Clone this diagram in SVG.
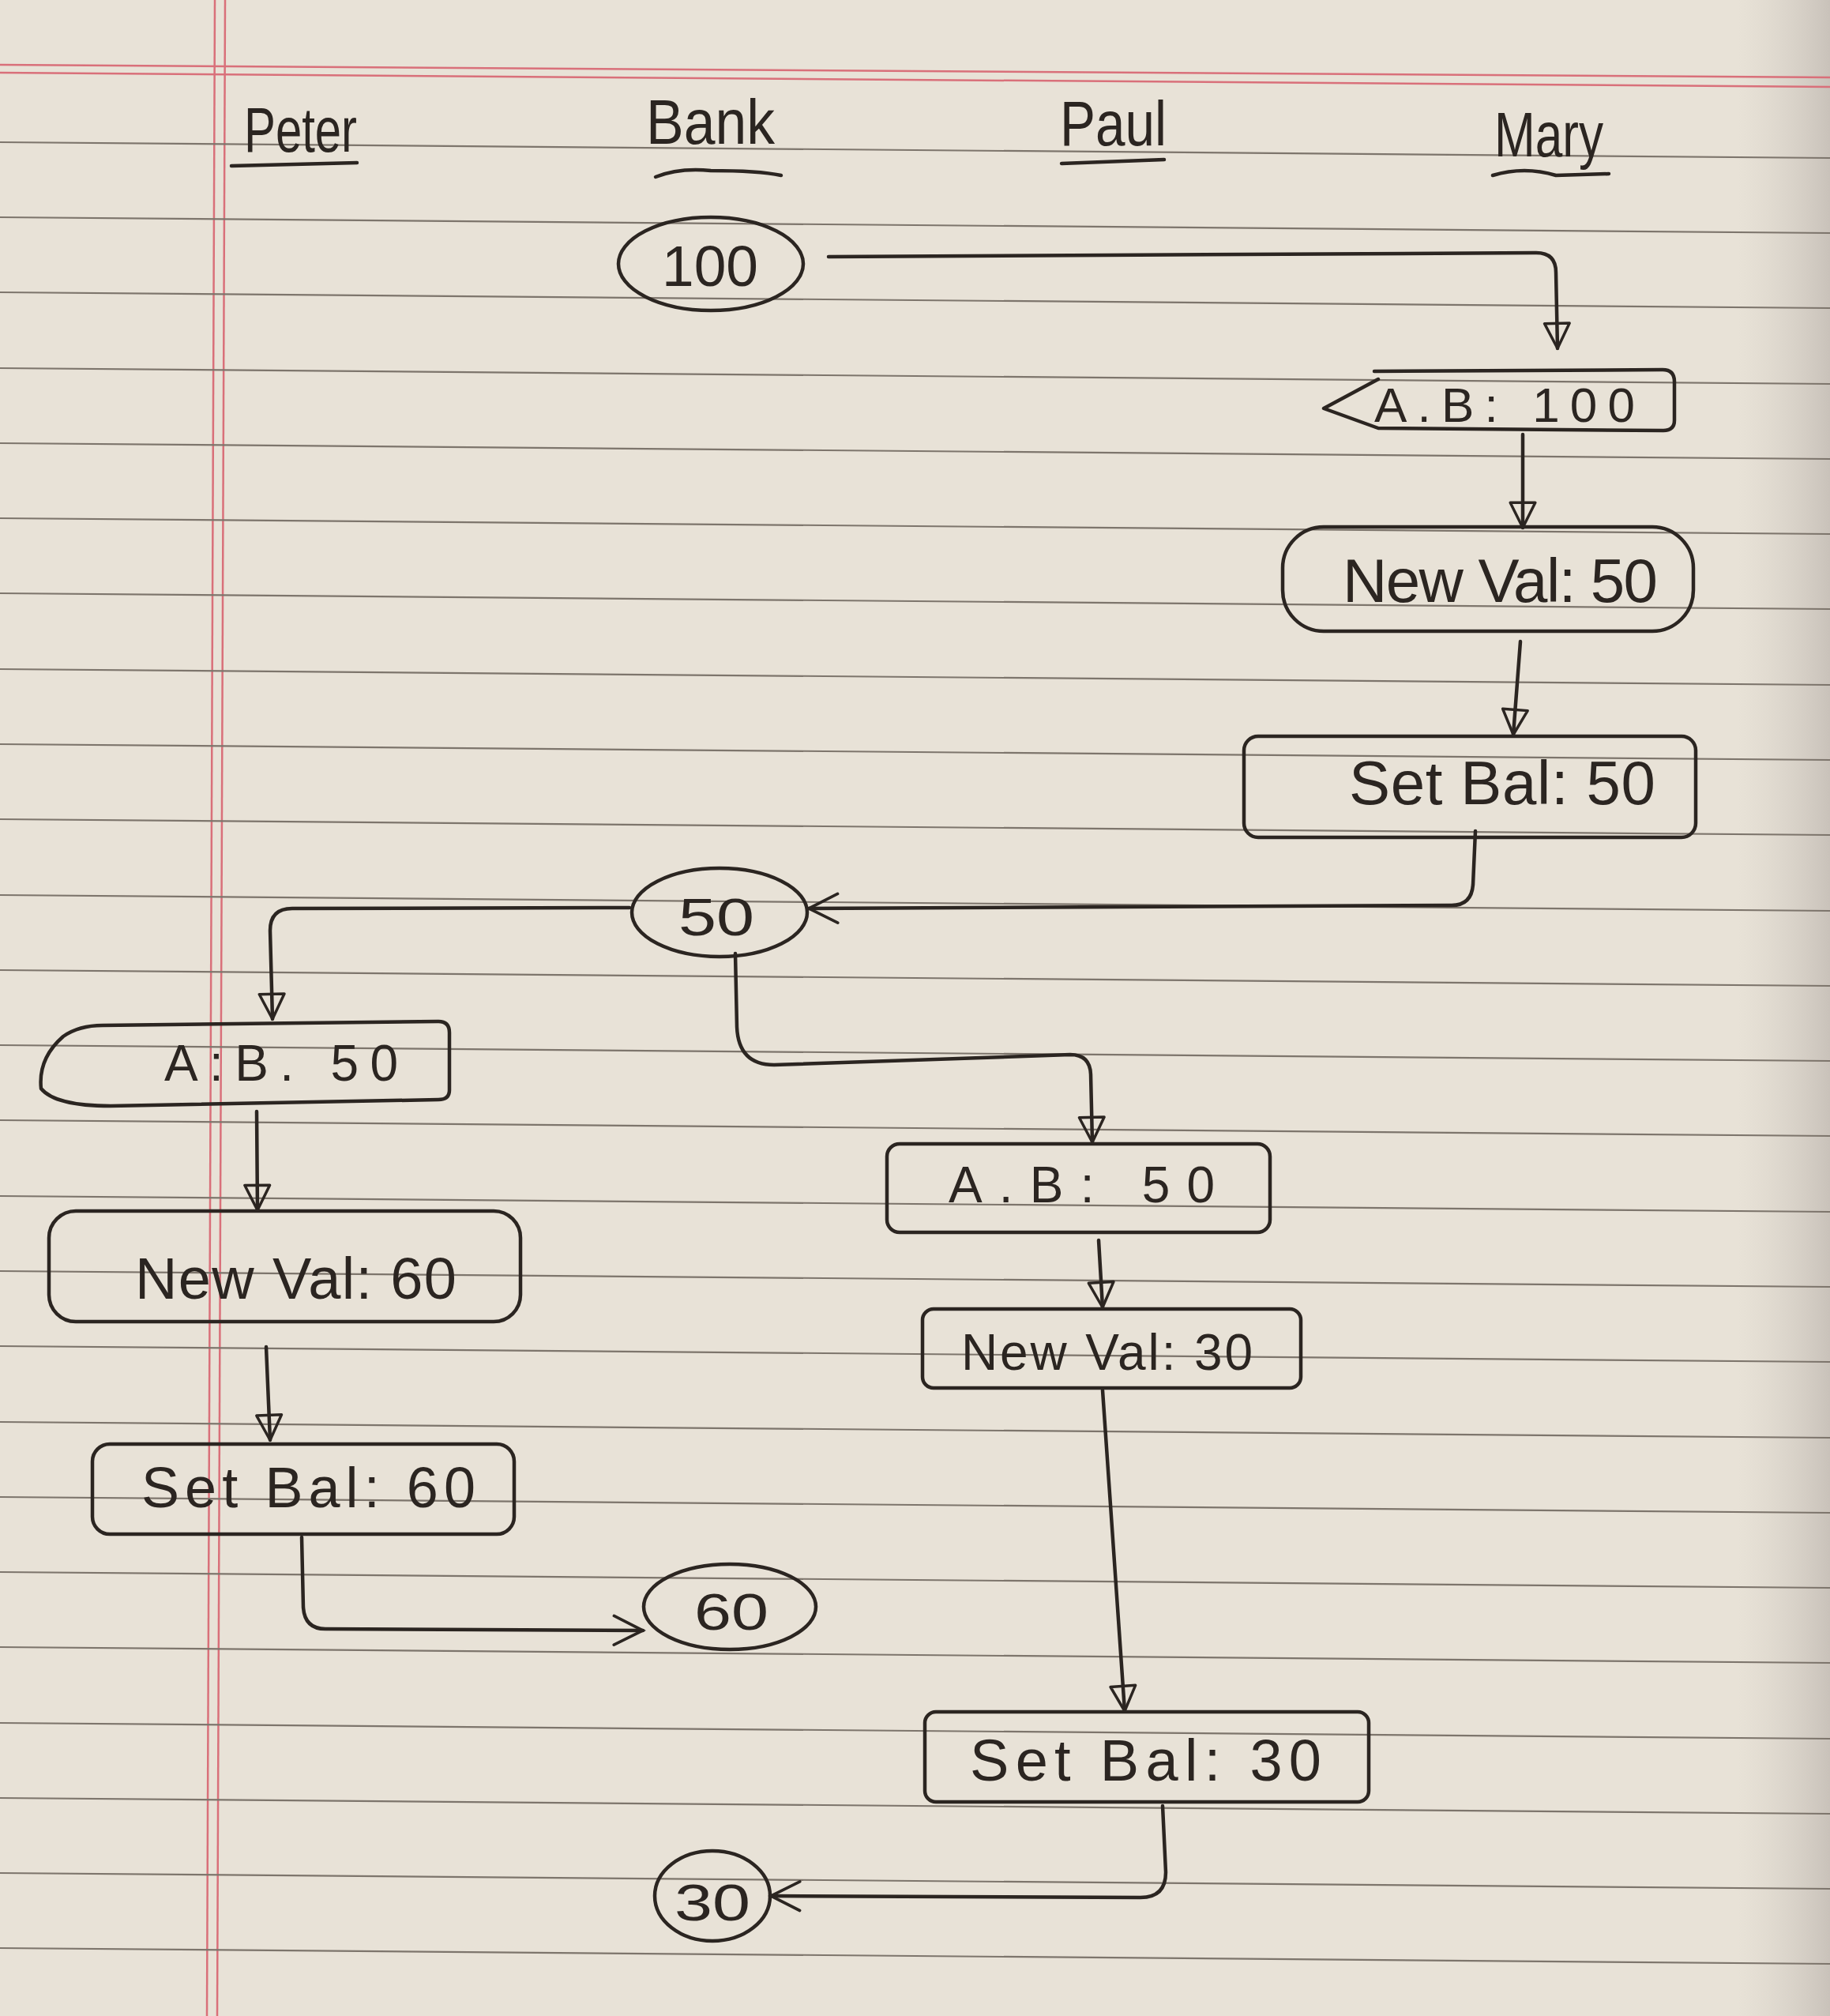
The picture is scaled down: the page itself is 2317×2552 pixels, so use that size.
<svg xmlns="http://www.w3.org/2000/svg" width="2317" height="2552" viewBox="0 0 2317 2552">
<style>
.ink{fill:none;stroke:#2b2521;stroke-width:4.5;stroke-linecap:round;stroke-linejoin:round}
.lbl{font-family:"Liberation Sans",Arial,sans-serif;fill:#2b2521;text-anchor:start}
.hdr{font-family:"Liberation Sans",Arial,sans-serif;fill:#2b2521;font-size:80px}
.rule{stroke:#7d756c;stroke-width:2.2}
.margin{stroke:#d9707a;stroke-width:2.5}
</style>
<defs>
<marker id="tri" viewBox="0 0 12 12" refX="11" refY="6" markerWidth="38" markerHeight="38" markerUnits="userSpaceOnUse" orient="auto">
<path d="M1,1 L11,6 L1,11 Z" fill="none" stroke="#2b2521" stroke-width="1.1" stroke-linejoin="round"/>
</marker>
<marker id="chev" viewBox="0 0 12 12" refX="11" refY="6" markerWidth="44" markerHeight="44" markerUnits="userSpaceOnUse" orient="auto">
<path d="M1,1 L11,6 L1,11" fill="none" stroke="#2b2521" stroke-width="1" stroke-linecap="round"/>
</marker>
<linearGradient id="edge" x1="0" y1="0" x2="1" y2="0">
<stop offset="0" stop-color="#d8d2c8" stop-opacity="0"/>
<stop offset="1" stop-color="#c9c2ba" stop-opacity="1"/>
</linearGradient>
</defs>

<g id="paper">
<rect x="0" y="0" width="2317" height="2552" fill="#e8e2d7"/>
<rect x="2200" y="0" width="117" height="2552" fill="url(#edge)"/>
<line class="margin" x1="0" y1="82" x2="2317" y2="98"/>
<line class="margin" x1="0" y1="92" x2="2317" y2="110"/>
<line class="margin" x1="272" y1="0" x2="262" y2="2552"/>
<line class="margin" x1="285" y1="0" x2="275" y2="2552"/>
<g id="rules">
<line class="rule" x1="0" y1="180" x2="2317" y2="200"/>
<line class="rule" x1="0" y1="275" x2="2317" y2="295"/>
<line class="rule" x1="0" y1="370" x2="2317" y2="390"/>
<line class="rule" x1="0" y1="466" x2="2317" y2="486"/>
<line class="rule" x1="0" y1="561" x2="2317" y2="581"/>
<line class="rule" x1="0" y1="656" x2="2317" y2="676"/>
<line class="rule" x1="0" y1="751" x2="2317" y2="771"/>
<line class="rule" x1="0" y1="847" x2="2317" y2="867"/>
<line class="rule" x1="0" y1="942" x2="2317" y2="962"/>
<line class="rule" x1="0" y1="1037" x2="2317" y2="1057"/>
<line class="rule" x1="0" y1="1133" x2="2317" y2="1153"/>
<line class="rule" x1="0" y1="1228" x2="2317" y2="1248"/>
<line class="rule" x1="0" y1="1323" x2="2317" y2="1343"/>
<line class="rule" x1="0" y1="1418" x2="2317" y2="1438"/>
<line class="rule" x1="0" y1="1514" x2="2317" y2="1534"/>
<line class="rule" x1="0" y1="1609" x2="2317" y2="1629"/>
<line class="rule" x1="0" y1="1704" x2="2317" y2="1724"/>
<line class="rule" x1="0" y1="1800" x2="2317" y2="1820"/>
<line class="rule" x1="0" y1="1895" x2="2317" y2="1915"/>
<line class="rule" x1="0" y1="1990" x2="2317" y2="2010"/>
<line class="rule" x1="0" y1="2085" x2="2317" y2="2105"/>
<line class="rule" x1="0" y1="2181" x2="2317" y2="2201"/>
<line class="rule" x1="0" y1="2276" x2="2317" y2="2296"/>
<line class="rule" x1="0" y1="2371" x2="2317" y2="2391"/>
<line class="rule" x1="0" y1="2466" x2="2317" y2="2486"/>
</g>
</g>

<g id="headers">
<g id="h-peter"><text class="hdr" x="309" y="192" textLength="143" lengthAdjust="spacingAndGlyphs">Peter</text><path class="ink" d="M293,210 L452,206"/></g>
<g id="h-bank"><text class="hdr" x="818" y="182" textLength="163" lengthAdjust="spacingAndGlyphs">Bank</text><path class="ink" d="M830,224 Q860,212 900,216 Q960,216 989,222"/></g>
<g id="h-paul"><text class="hdr" x="1342" y="184" textLength="135" lengthAdjust="spacingAndGlyphs">Paul</text><path class="ink" d="M1344,207 L1474,202"/></g>
<g id="h-mary"><text class="hdr" x="1892" y="198" textLength="138" lengthAdjust="spacingAndGlyphs">Mary</text><path class="ink" d="M1890,222 Q1930,210 1970,222 L2037,220"/></g>
</g>

<g id="connectors">
<path class="ink" d="M1049,325 L1945,320 Q1970,320 1970,345 L1972,441" marker-end="url(#tri)"/>
<path class="ink" d="M1928,550 L1928,668" marker-end="url(#tri)"/>
<path class="ink" d="M1925,812 L1916,930" marker-end="url(#tri)"/>
<path class="ink" d="M1868,1052 L1865,1120 Q1863,1146 1838,1146 L1024,1150" marker-end="url(#chev)"/>
<path class="ink" d="M797,1149 L370,1150 Q342,1150 342,1178 L345,1290" marker-end="url(#tri)"/>
<path class="ink" d="M931,1207 L933,1300 Q935,1348 980,1348 L1355,1335 Q1380,1335 1381,1360 L1383,1446" marker-end="url(#tri)"/>
<path class="ink" d="M325,1407 L326,1532" marker-end="url(#tri)"/>
<path class="ink" d="M337,1705 L342,1823" marker-end="url(#tri)"/>
<path class="ink" d="M382,1946 L384,2035 Q386,2062 412,2062 L814,2064" marker-end="url(#chev)"/>
<path class="ink" d="M1391,1570 L1396,1655" marker-end="url(#tri)"/>
<path class="ink" d="M1396,1760 L1424,2166" marker-end="url(#tri)"/>
<path class="ink" d="M1472,2286 L1476,2370 Q1476,2402 1444,2402 L976,2400" marker-end="url(#chev)"/>
</g>

<g id="n-bank-100">
<ellipse class="ink" cx="900" cy="334" rx="117" ry="59"/>
<text class="lbl" x="838" y="362" font-size="72" textLength="122" lengthAdjust="spacingAndGlyphs">100</text>
</g>

<g id="n-mary-ab">
<path class="ink" d="M1740,470 L2105,468 Q2120,468 2120,483 L2120,532 Q2120,545 2106,545 L1745,542 L1676,517 L1745,480"/>
<text class="lbl" x="1740" y="534" font-size="62" textLength="330" lengthAdjust="spacing">A.B: 100</text>
</g>

<g id="n-mary-newval">
<rect class="ink" x="1624" y="667" width="520" height="132" rx="52"/>
<text class="lbl" x="1700" y="762" font-size="78" textLength="399" lengthAdjust="spacing">New Val: 50</text>
</g>

<g id="n-mary-setbal">
<rect class="ink" x="1575" y="932" width="572" height="128" rx="18"/>
<text class="lbl" x="1708" y="1018" font-size="78" textLength="388" lengthAdjust="spacing">Set Bal: 50</text>
</g>

<g id="n-bank-50">
<ellipse class="ink" cx="911" cy="1155" rx="111" ry="56"/>
<text class="lbl" x="859" y="1184" font-size="66" textLength="96" lengthAdjust="spacingAndGlyphs">50</text>
</g>

<g id="n-peter-ab">
<path class="ink" d="M130,1298 L555,1293 Q569,1293 569,1307 L569,1380 Q569,1392 555,1392 L140,1400 Q70,1400 52,1378 Q48,1340 80,1312 Q100,1298 130,1298 Z"/>
<text class="lbl" x="208" y="1368" font-size="64" textLength="296" lengthAdjust="spacing">A:B. 50</text>
</g>

<g id="n-peter-newval">
<rect class="ink" x="62" y="1533" width="597" height="140" rx="34"/>
<text class="lbl" x="171" y="1644" font-size="74" textLength="407" lengthAdjust="spacing">New Val: 60</text>
</g>

<g id="n-peter-setbal">
<rect class="ink" x="117" y="1828" width="534" height="114" rx="22"/>
<text class="lbl" x="179" y="1908" font-size="72" textLength="423" lengthAdjust="spacing">Set Bal: 60</text>
</g>

<g id="n-bank-60">
<ellipse class="ink" cx="924" cy="2034" rx="109" ry="54"/>
<text class="lbl" x="879" y="2063" font-size="64" textLength="94" lengthAdjust="spacingAndGlyphs">60</text>
</g>

<g id="n-paul-ab">
<rect class="ink" x="1123" y="1448" width="485" height="112" rx="16"/>
<text class="lbl" x="1201" y="1522" font-size="64" textLength="337" lengthAdjust="spacing">A.B: 50</text>
</g>

<g id="n-paul-newval">
<rect class="ink" x="1168" y="1657" width="479" height="100" rx="14"/>
<text class="lbl" x="1217" y="1734" font-size="64" textLength="369" lengthAdjust="spacing">New Val: 30</text>
</g>

<g id="n-paul-setbal">
<rect class="ink" x="1171" y="2167" width="562" height="114" rx="14"/>
<text class="lbl" x="1228" y="2254" font-size="74" textLength="445" lengthAdjust="spacing">Set Bal: 30</text>
</g>

<g id="n-bank-30">
<ellipse class="ink" cx="902" cy="2400" rx="73" ry="57"/>
<text class="lbl" x="854" y="2431" font-size="64" textLength="96" lengthAdjust="spacingAndGlyphs">30</text>
</g>
</svg>
